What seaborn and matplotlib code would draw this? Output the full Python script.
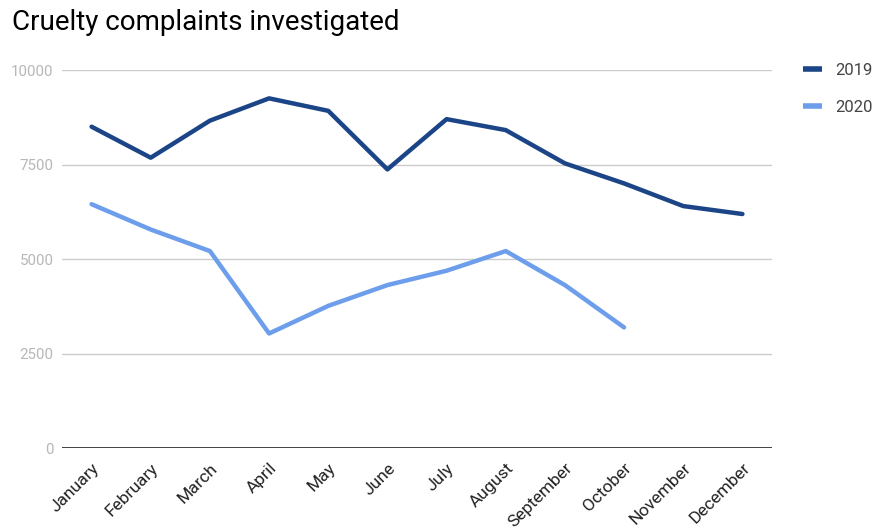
import matplotlib
matplotlib.use("Agg")
import matplotlib.pyplot as plt
import seaborn as sns
import pandas as pd
import numpy as np
from matplotlib.lines import Line2D

months = ["January", "February", "March", "April", "May", "June", "July",
          "August", "September", "October", "November", "December"]
values_2019 = [8500, 7680, 8660, 9250, 8920, 7370, 8700, 8410, 7530, 7000, 6400, 6190]
values_2020 = [6450, 5780, 5210, 3030, 3760, 4310, 4690, 5210, 4310, 3190]
series_names = ["2019", "2020"]
yticks = [0, 2500, 5000, 7500, 10000]

rows = []
for i, v in enumerate(values_2019):
    rows.append({"month": i, "value": v, "year": "2019"})
for i, v in enumerate(values_2020):
    rows.append({"month": i, "value": v, "year": "2020"})
df = pd.DataFrame(rows)

sns.set_theme(style="white")
plt.rcParams['font.family'] = ['Roboto', 'DejaVu Sans']

fig = plt.figure(figsize=(8.74, 5.30), dpi=100)
ax = fig.add_axes([62/874, 1-448/530, 710/874, (448-70)/530])

palette = {"2019": "#1c4587", "2020": "#6d9eeb"}
sns.lineplot(data=df, x="month", y="value", hue="year", palette=palette,
             linewidth=3.2, ax=ax, legend=False, sort=False)

ax.set_xlim(-0.5, 11.5)
ax.set_ylim(0, 10000)
ax.set_yticks(yticks)
ax.set_yticklabels([str(t) for t in yticks], color="#b7b7b7", fontsize=10.8)
ax.set_xticks(range(12))
ax.set_xticklabels(months, rotation=45, ha="right", rotation_mode="anchor",
                   fontsize=12.5, color="#222222")
ax.tick_params(axis="y", length=0, pad=6)
ax.tick_params(axis="x", length=0, pad=9)
ax.set_xlabel("")
ax.set_ylabel("")
for t in yticks[1:]:
    ax.axhline(t, color="#cccccc", linewidth=1, zorder=0)
ax.axhline(0, color="#333333", linewidth=1.3, zorder=1)
for s in ax.spines.values():
    s.set_visible(False)

handles = [Line2D([0], [0], color=palette[n], linewidth=4, solid_capstyle="butt")
           for n in series_names]
fig.legend(handles, series_names, loc="upper left",
           bbox_to_anchor=(803/874, 1-63/530),
           frameon=False, fontsize=12, handlelength=1.15, handletextpad=0.8,
           labelspacing=1.3, borderpad=0, borderaxespad=0,
           labelcolor="#444444")

fig.text(12/874, 1-23/530, "Cruelty complaints investigated", fontsize=20,
         va="center", ha="left", color="#000000")

fig.savefig("out.png", dpi=100)
